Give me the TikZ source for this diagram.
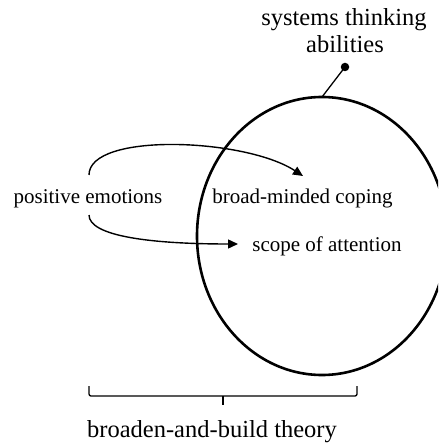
\documentclass[tikz,border=0pt]{standalone}
\usepackage{fontspec}
\setmainfont{Liberation Serif}
\usetikzlibrary{arrows.meta}

\tikzset{
  biglabel/.style={font=\fontsize{24.5}{27}\selectfont, inner sep=0pt, anchor=base},
  smalllabel/.style={font=\fontsize{21}{24}\selectfont, inner sep=0pt, anchor=base},
  flow/.style={line width=1.4pt, -{Triangle[length=10pt,width=9pt]}},
  fineline/.style={line width=1.3pt},
  boldline/.style={line width=2.6pt},
}

\begin{document}
\begin{tikzpicture}[x=1pt,y=1pt]
  \useasboundingbox (0,0) rectangle (438,-443);

  % labels
  \node[biglabel] (title1) at (344,-26) {systems thinking};
  \node[biglabel] (title2) at (345,-53) {abilities};
  \node[smalllabel] (pe)  at (88,-204)  {positive emotions};
  \node[smalllabel] (bmc) at (302.5,-204) {broad-minded coping};
  \node[smalllabel] (soa) at (327,-251) {scope of attention};
  \node[biglabel] (theory) at (212,-437) {broaden-and-build theory};

  % the systems-thinking ellipse (runs off the right edge) and its pin
  \begin{scope}
    \clip (0,0) rectangle (438,-443);
    \draw[boldline] (322,-236) ellipse [x radius=125, y radius=139];
  \end{scope}
  \coordinate (sysTop) at (322,-97);
  \node[circle, fill, inner sep=0pt, minimum size=8.5pt] (pin) at (345,-67) {};
  \draw[fineline] (pin.center) -- (sysTop);

  % arrows from positive emotions
  \coordinate (peTop) at (89,-175);
  \coordinate (peBot) at (89,-215);
  \coordinate (bmcIn) at (303,-176);
  \coordinate (soaIn) at (238,-244);
  \draw[flow] (peTop) .. controls (89,-132) and (245,-138) .. (bmcIn);
  \draw[flow] (peBot) .. controls (89,-236) and (150,-244) .. (soaIn);

  % brace over the theory label
  \coordinate (brL) at (89,-386);
  \coordinate (brR) at (357,-386);
  \coordinate (brM) at (223,-396);
  \coordinate (brTip) at (223,-405);
  \draw[fineline, rounded corners=2pt] (brL) -- (89,-396) -- (357,-396) -- (brR);
  \draw[fineline] (brM) -- (brTip);
\end{tikzpicture}
\end{document}
